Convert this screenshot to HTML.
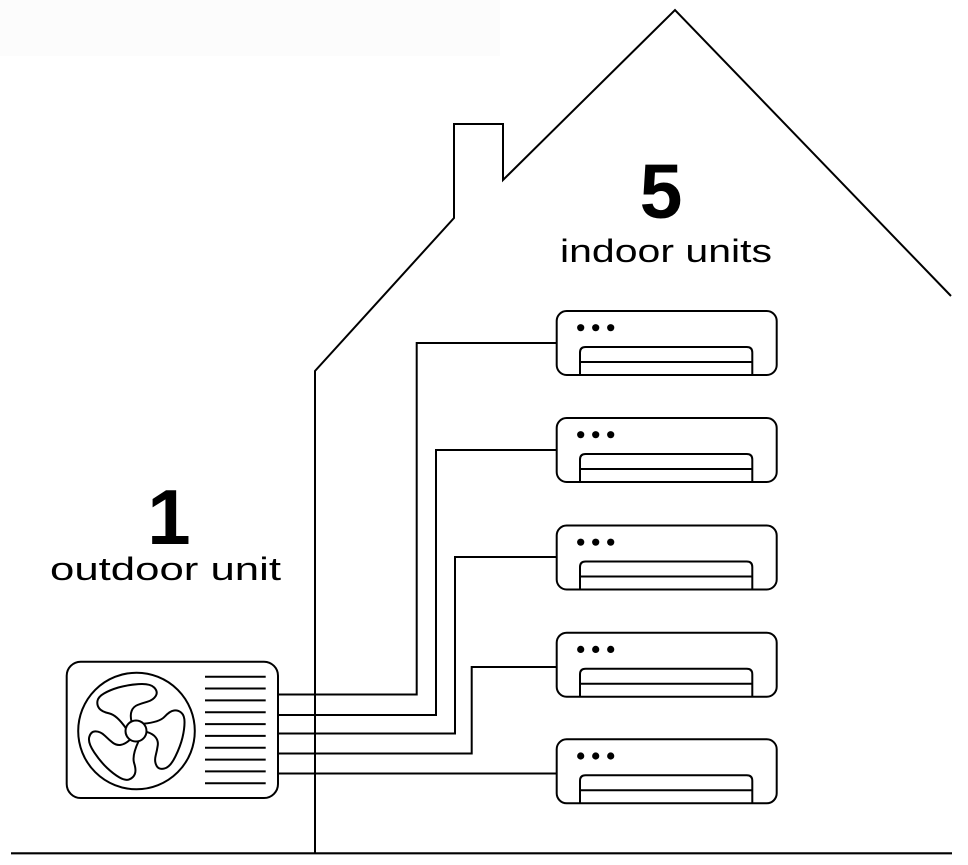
<!DOCTYPE html>
<html>
<head>
<meta charset="utf-8">
<style>
  html,body{margin:0;padding:0;background:#fff;}
  svg{display:block;}
  text{font-family:"Liberation Sans",sans-serif;fill:#000;}
</style>
</head>
<body>
<svg width="968" height="865" viewBox="0 0 968 865" xmlns="http://www.w3.org/2000/svg">
  <rect x="0" y="0" width="968" height="865" fill="#fff"/>
  <rect x="0" y="0" width="500" height="56" fill="#fcfcfc"/>

  <!-- House outline -->
  <polyline points="315,853 315,371 454,218 454,124 503,124 503,180 675,10 951,296"
            fill="none" stroke="#000" stroke-width="2" stroke-linejoin="miter"/>
  <!-- Ground -->
  <line x1="11" y1="853.3" x2="952" y2="853.3" stroke="#000" stroke-width="2.2"/>

  <!-- Labels -->
  <text x="661" y="218" font-size="77" font-weight="bold" text-anchor="middle">5</text>
  <text x="560" y="262" font-size="32" textLength="212" lengthAdjust="spacingAndGlyphs">indoor units</text>
  <text x="169" y="544" font-size="78" font-weight="bold" text-anchor="middle">1</text>
  <text x="50" y="580" font-size="32" textLength="231" lengthAdjust="spacingAndGlyphs">outdoor unit</text>

  <!-- Connectors -->
  <g fill="none" stroke="#000" stroke-width="2">
    <polyline points="278,694.5 416.7,694.5 416.7,343 557,343"/>
    <polyline points="278,715 436,715 436,450 557,450"/>
    <polyline points="278,733.5 455,733.5 455,557 557,557"/>
    <polyline points="278,753.5 471.7,753.5 471.7,667 557,667"/>
    <polyline points="278,773.5 557,773.5"/>
  </g>

  <!-- Indoor units -->
  <defs>
    <g id="iu">
      <rect x="0" y="0" width="220" height="64" rx="10" ry="10" fill="#fff" stroke="#000" stroke-width="2"/>
      <circle cx="24" cy="16.7" r="3.6" fill="#000"/>
      <circle cx="39" cy="16.7" r="3.6" fill="#000"/>
      <circle cx="54" cy="16.7" r="3.6" fill="#000"/>
      <path d="M23.3,64 L23.3,41.5 Q23.3,36 29,36 L190,36 Q195.6,36 195.6,41.5 L195.6,64" fill="none" stroke="#000" stroke-width="2"/>
      <line x1="23.3" y1="51" x2="195.6" y2="51" stroke="#000" stroke-width="2"/>
    </g>
  </defs>
  <use href="#iu" x="556.7" y="311"/>
  <use href="#iu" x="556.7" y="418"/>
  <use href="#iu" x="556.7" y="525.5"/>
  <use href="#iu" x="556.7" y="632.7"/>
  <use href="#iu" x="556.7" y="739.3"/>

  <!-- Outdoor unit -->
  <rect x="66.7" y="661.7" width="211.3" height="136.3" rx="14" ry="14" fill="#fff" stroke="#000" stroke-width="2"/>
  <g stroke="#000" stroke-width="2">
    <line x1="205" y1="676.7" x2="265.7" y2="676.7"/>
    <line x1="205" y1="688.5" x2="265.7" y2="688.5"/>
    <line x1="205" y1="700.4" x2="265.7" y2="700.4"/>
    <line x1="205" y1="712.2" x2="265.7" y2="712.2"/>
    <line x1="205" y1="724.1" x2="265.7" y2="724.1"/>
    <line x1="205" y1="735.9" x2="265.7" y2="735.9"/>
    <line x1="205" y1="747.7" x2="265.7" y2="747.7"/>
    <line x1="205" y1="759.6" x2="265.7" y2="759.6"/>
    <line x1="205" y1="771.4" x2="265.7" y2="771.4"/>
    <line x1="205" y1="783.3" x2="265.7" y2="783.3"/>
  </g>
  <circle cx="136.5" cy="731" r="58.3" fill="none" stroke="#000" stroke-width="2"/>
  <g transform="translate(136,731)" fill="none" stroke="#000" stroke-width="2" stroke-linejoin="round">
    <defs>
      <path id="blade" d="M-10,-2.7 Q-19.3,-16 -26.8,-17.65 Q-34.3,-19.3 -36.8,-22.65 Q-39.3,-26 -38.5,-30.15 Q-37.7,-34.3 -31.85,-37.65 Q-26,-41 -17.65,-43.5 Q-9.3,-46 2.35,-46.85 Q14,-47.7 18.15,-43.5 Q22.3,-39.3 19.8,-35.15 Q17.3,-31 11.5,-29.35 Q5.7,-27.7 1.5,-26 Q-2.7,-24.3 -4.35,-20.15 Q-6,-16 -4.5,-9.5"/>
    </defs>
    <use href="#blade"/>
    <use href="#blade" transform="rotate(120)"/>
    <use href="#blade" transform="rotate(240)"/>
    <circle cx="0" cy="0" r="10.5" fill="#fff"/>
  </g>
</svg>
</body>
</html>
